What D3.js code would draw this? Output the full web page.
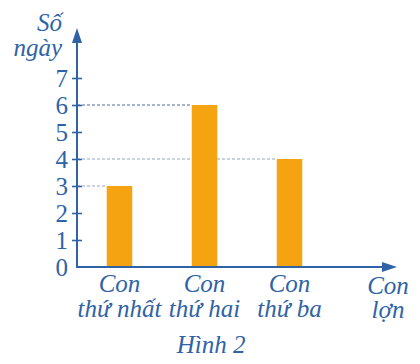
<!DOCTYPE html>
<html>
<head>
<meta charset="utf-8">
<script src="https://cdn.jsdelivr.net/npm/d3@7"></script>
<style>
  body { margin: 0; background: #fff; }
</style>
</head>
<body>
<svg width="420" height="364"></svg>
<script>
// data
const categories = ['Con thứ nhất', 'Con thứ hai', 'Con thứ ba'];
const catLines = [['Con', 'thứ nhất'], ['Con', 'thứ hai'], ['Con', 'thứ ba']];
const days = [3, 6, 4];
const yTicks = [0, 1, 2, 3, 4, 5, 6, 7];

const svg = d3.select('svg');
const blue = '#2f63a6';
const orange = '#f6a312';
const serif = 'Tinos, "Liberation Serif", "Times New Roman", serif';
const origin = { x: 77, y: 267 };

const x = d3.scaleBand().domain(categories).range([origin.x, 332])
    .paddingInner(0.7).paddingOuter(0.35);
const y = d3.scaleLinear().domain([0, 7]).range([origin.y, 78]);

// dashed guide lines from the axis to each bar
svg.append('g').selectAll('line').data(categories).join('line')
    .attr('x1', origin.x)
    .attr('x2', (d) => x(d))
    .attr('y1', (d, i) => y(days[i]))
    .attr('y2', (d, i) => y(days[i]))
    .attr('stroke', '#3a5f95')
    .attr('stroke-width', 1)
    .attr('stroke-dasharray', '3,2')
    .attr('opacity', (d, i) => days[i] === 6 ? 0.9 : 0.55);

// bars
svg.append('g').selectAll('rect').data(categories).join('rect')
    .attr('x', (d) => x(d))
    .attr('y', (d, i) => y(days[i]))
    .attr('width', x.bandwidth())
    .attr('height', (d, i) => y(0) - y(days[i]))
    .attr('fill', orange);

// y axis ticks + labels
const yAxis = svg.append('g')
    .attr('transform', `translate(${origin.x},0)`)
    .call(d3.axisLeft(y).tickValues(yTicks).tickFormat(d3.format('d')).tickSize(6).tickPadding(4))
    .attr('font-family', null)
    .attr('font-size', null);
yAxis.select('.domain').remove();
yAxis.selectAll('.tick line')
    .attr('x1', -5).attr('x2', 5)
    .attr('stroke', blue).attr('stroke-width', 1.6)
    .filter((d) => d === 0).remove();
yAxis.selectAll('.tick text')
    .attr('x', -9)
    .attr('dy', '0.34em')
    .attr('font-family', serif)
    .attr('font-size', 25)
    .attr('fill', blue);

// axes lines with arrows
svg.append('line')
    .attr('x1', origin.x).attr('y1', origin.y + 1)
    .attr('x2', origin.x).attr('y2', 40)
    .attr('stroke', blue).attr('stroke-width', 2);
svg.append('path')
    .attr('d', `M${origin.x},28 L${origin.x - 5},43 L${origin.x + 5},43 Z`)
    .attr('fill', blue);
svg.append('line')
    .attr('x1', origin.x - 1).attr('y1', origin.y)
    .attr('x2', 386).attr('y2', origin.y)
    .attr('stroke', blue).attr('stroke-width', 2);
svg.append('path')
    .attr('d', `M397,${origin.y} L382,${origin.y - 5} L382,${origin.y + 5} Z`)
    .attr('fill', blue);

function italicText(g) {
    return g.append('text')
        .attr('font-family', serif)
        .attr('font-size', 25)
        .attr('font-style', 'italic')
        .attr('fill', blue);
}

// category labels
categories.forEach((d, i) => {
    catLines[i].forEach((line, j) => {
        italicText(svg)
            .attr('text-anchor', 'middle')
            .attr('x', x(d) + x.bandwidth() / 2)
            .attr('y', 292 + j * 25)
            .text(line);
    });
});

// axis titles
italicText(svg).attr('text-anchor', 'end').attr('x', 62).attr('y', 31).text('Số');
italicText(svg).attr('text-anchor', 'end').attr('x', 62).attr('y', 56).text('ngày');
italicText(svg).attr('text-anchor', 'middle').attr('x', 388).attr('y', 294).text('Con');
italicText(svg).attr('text-anchor', 'middle').attr('x', 388).attr('y', 318).text('lợn');

italicText(svg).attr('text-anchor', 'middle').attr('x', 211).attr('y', 353).text('Hình 2');
</script>
</body>
</html>
